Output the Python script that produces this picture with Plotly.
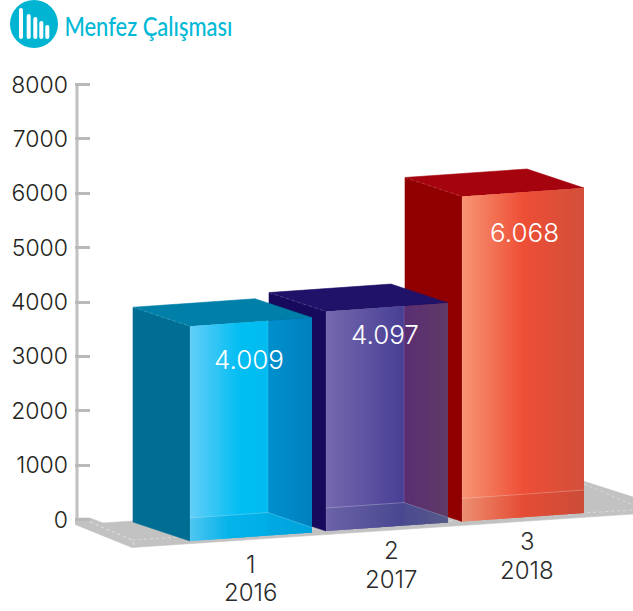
import plotly.graph_objects as go

# ---- data ----
index_labels = ["1", "2", "3"]
years = ["2016", "2017", "2018"]
values = [4009, 4097, 6068]
value_labels = ["4.009", "4.097", "6.068"]
y_ticks = [0, 1000, 2000, 3000, 4000, 5000, 6000, 7000, 8000]
title = "Menfez Çalışması"

# ---- projection / styles ----
W, H = 633, 611
ML = 75
Y0 = 519.5            # pixel of value 0
K = (519.5 - 84.5) / 8000   # px per unit on the axis
KB = K * 0.985        # foreshortening of bars
BAR_X = [190, 326, 462]
BAR_Y = [541, 531, 521.5]
BAR_W, BAR_RISE = 122, 8.5
DEPTH_X, DEPTH_Y = -57, -19
SPLIT = 78
BAND = 23

def v(py):
    return (Y0 - py) / K

STYLE = [
    dict(side="#006d92", top="#007fa8",
         front=[(0, "#62cef8"), (0.65, "#00bdf2"), (1, "#00bcf1")],
         right=[(0, "#0090ce"), (1, "#0080bd")],
         band=[(0, "#50c6f0"), (0.5, "#03b3ea"), (1, "#00aee6")],
         bandr=[(0, "#00a9e2"), (1, "#00a2dc")]),
    dict(side="#170a5c", top="#1f1268",
         front=[(0, "#7568ae"), (1, "#483f95")],
         right=[(0, "#5a2e72"), (1, "#5f3a67")],
         band=[(0, "#6c63a9"), (1, "#47468f")],
         bandr=[(0, "#4b4a90"), (1, "#565a88")]),
    dict(side="#900000", top="#a5040e",
         front=[(0, "#f79573"), (0.5, "#ee4e36"), (1, "#d24f3a")],
         right=None,
         band=[(0, "#ec8f70"), (0.5, "#e54c35"), (1, "#cb4c38")],
         bandr=None),
]
LABEL_DY = [33, 23, 36]
LABEL_DX = [59, 59, 62]
CAT_POS = [(250, 564, 592), (391, 550, 579), (527, 541, 570)]

def h2r(c):
    return [int(c[i:i + 2], 16) for i in (1, 3, 5)]

def mix(stops, t):
    for (a, ca), (b, cb) in zip(stops, stops[1:]):
        if a <= t <= b:
            f = (t - a) / (b - a)
            ra, rb = h2r(ca), h2r(cb)
            return "rgb(%d,%d,%d)" % tuple(round(p + (q - p) * f) for p, q in zip(ra, rb))
    return stops[-1][1]

fig = go.Figure()

def poly(pts, color, line=0.6):
    xs = [p[0] for p in pts] + [pts[0][0]]
    ys = [v(p[1]) for p in pts] + [v(pts[0][1])]
    fig.add_trace(go.Scatter(x=xs, y=ys, mode="lines", fill="toself", fillcolor=color,
                             line=dict(color=color, width=line), hoverinfo="skip", showlegend=False))

def seg(pts, color, width=1, dash="solid"):
    fig.add_trace(go.Scatter(x=[p[0] for p in pts], y=[v(p[1]) for p in pts], mode="lines",
                             line=dict(color=color, width=width, dash=dash),
                             hoverinfo="skip", showlegend=False))

def grad(x0, x1, ytop, ybot, stops):
    n = max(1, int(abs(x1 - x0)))
    for i in range(n):
        a = x0 + (x1 - x0) * i / n
        b = x0 + (x1 - x0) * (i + 1) / n
        c = mix(stops, (i + 0.5) / n)
        # each slice overlaps the next one by a pixel so no seam shows
        poly([(a, ytop(a)), (b + 1 if i < n - 1 else b, ytop(b)),
              (b + 1 if i < n - 1 else b, ybot(b)), (a, ybot(a))], c, 0)

# axis line
fig.add_trace(go.Scatter(x=[77, 77], y=[0, 8000], mode="lines", line=dict(color="#c0c0c0", width=3),
                         hoverinfo="skip", showlegend=False))

# floor
poly([(74, 518), (90, 518), (103, 523), (300, 510), (583, 481), (633, 497), (633, 514),
      (132, 547.5), (74, 524)], "#c2c2c2")
seg([(90, 522), (132, 540), (135, 547)], "#e8e8e8", 0.8, "dot")
seg([(132, 540), (633, 510)], "#e0e0e0", 0.8, "dot")
seg([(584, 484), (633, 505)], "#e0e0e0", 0.8, "dot")

# bars, back to front
for i in (2, 1, 0):
    s = STYLE[i]
    xl, yb = BAR_X[i], BAR_Y[i]
    yt = yb - values[i] * KB
    xr = xl + BAR_W
    slope = -BAR_RISE / BAR_W
    top = lambda x, yt=yt, xl=xl: yt + slope * (x - xl)
    bot = lambda x, yb=yb, xl=xl: yb + slope * (x - xl)
    # side and top
    poly([(xl + DEPTH_X, yt + DEPTH_Y), (xl, yt), (xl, yb), (xl + DEPTH_X, yb + DEPTH_Y)], s["side"])
    poly([(xl + DEPTH_X, yt + DEPTH_Y), (xl + DEPTH_X + BAR_W, yt + DEPTH_Y - BAR_RISE),
          (xr, yt - BAR_RISE), (xl, yt)], s["top"])
    band = lambda x, yb=yb, xl=xl: yb - BAND + slope * (x - xl)
    xs = xl + SPLIT
    if s["right"] is None:
        grad(xl, xr, top, band, s["front"])
        grad(xl, xr, band, bot, s["band"])
    else:
        inner = lambda x, xs=xs, band=band: band(xs) + (x - xs) * 15 / (BAR_W - SPLIT)
        grad(xl, xs, top, band, s["front"])
        grad(xs, xr, top, inner, s["right"])
        grad(xl, xs, band, bot, s["band"])
        grad(xs, xr, inner, bot, s["bandr"])
        seg([(xs, top(xs)), (xs, band(xs))], "rgba(255,255,255,0.2)", 0.7)
        seg([(xs, band(xs)), (xr, inner(xr))], "rgba(255,255,255,0.25)", 0.7)
    xe = xs if s["right"] else xr
    seg([(xl, band(xl)), (xe, band(xe))], "rgba(255,255,255,0.3)", 0.8)
    seg([(xl + DEPTH_X, yt + DEPTH_Y), (xl, yt)], "rgba(255,255,255,0.25)", 0.7, "dot")
    seg([(xl, yt), (xl, yb)], "rgba(255,255,255,0.15)", 0.7)

FONT = "Inter"
ann = []
for i in range(3):
    xl = BAR_X[i]
    yt = BAR_Y[i] - values[i] * KB
    ann.append(dict(x=xl + LABEL_DX[i], y=v(yt + LABEL_DY[i]), text=value_labels[i], showarrow=False,
                    xanchor="center", yanchor="middle",
                    font=dict(family=FONT, size=26, color="white", weight=300)))
    cx, y1, y2 = CAT_POS[i]
    ann.append(dict(x=cx, y=v(y1), text=index_labels[i], showarrow=False, xanchor="center", yanchor="middle",
                    font=dict(family=FONT, size=24, color="#2b2b2b", weight=300)))
    ann.append(dict(x=cx, y=v(y2), text=years[i], showarrow=False, xanchor="center", yanchor="middle",
                    font=dict(family=FONT, size=24, color="#2b2b2b", weight=300)))

PW = W - ML
def px(x):
    return (x - ML) / PW
def py(y):
    return 1 - y / H

ann.append(dict(xref="paper", yref="paper", x=px(148), y=py(25.5), text=title, showarrow=False,
                xanchor="center", yanchor="middle",
                font=dict(family="Lato", size=27, color="#00b9d6", weight=500)))

# logo
shapes = [dict(type="circle", xref="paper", yref="paper", x0=px(10), x1=px(58), y0=py(48), y1=py(0),
               fillcolor="#00b4d2", line=dict(width=0))]
for x0, t in [(19, 8), (26.7, 14), (33.3, 17), (39.3, 21), (45.3, 25)]:
    a, b, m, tp, bt, r = px(x0), px(x0 + 4), px(x0 + 2), py(t), py(39), 2 / H
    shapes.append(dict(type="path", xref="paper", yref="paper",
                       path=f"M{a},{tp - r} Q{a},{tp} {m},{tp} Q{b},{tp} {b},{tp - r} "
                            f"L{b},{bt + r} Q{b},{bt} {m},{bt} Q{a},{bt} {a},{bt + r} Z",
                       fillcolor="white", line=dict(width=0)))

fig.update_layout(
    width=W, height=H, margin=dict(l=ML, r=0, t=0, b=0),
    paper_bgcolor="white", plot_bgcolor="white", showlegend=False,
    xaxis=dict(range=[ML, W], visible=False, fixedrange=True),
    yaxis=dict(range=[v(H), v(0)], tickmode="array", tickvals=y_ticks, ticktext=[str(t) for t in y_ticks],
               ticks="inside", ticklen=15, tickwidth=2.5, tickcolor="#b9b9b9",
               showline=False, showgrid=False, zeroline=False, fixedrange=True,
               ticklabelstandoff=6,
               tickfont=dict(family=FONT, size=23, color="#231f20", weight=300)),
    annotations=ann, shapes=shapes,
)
post = """
document.body.style.margin='0';
document.querySelectorAll('.annotation-text').forEach(function(t){
  if (t.textContent.indexOf('Menfez') === 0) {
    t.setAttribute('textLength', '168');
    t.setAttribute('lengthAdjust', 'spacingAndGlyphs');
  }
});
"""
fig.write_html("out.html", config=dict(displayModeBar=False), post_script=post)
